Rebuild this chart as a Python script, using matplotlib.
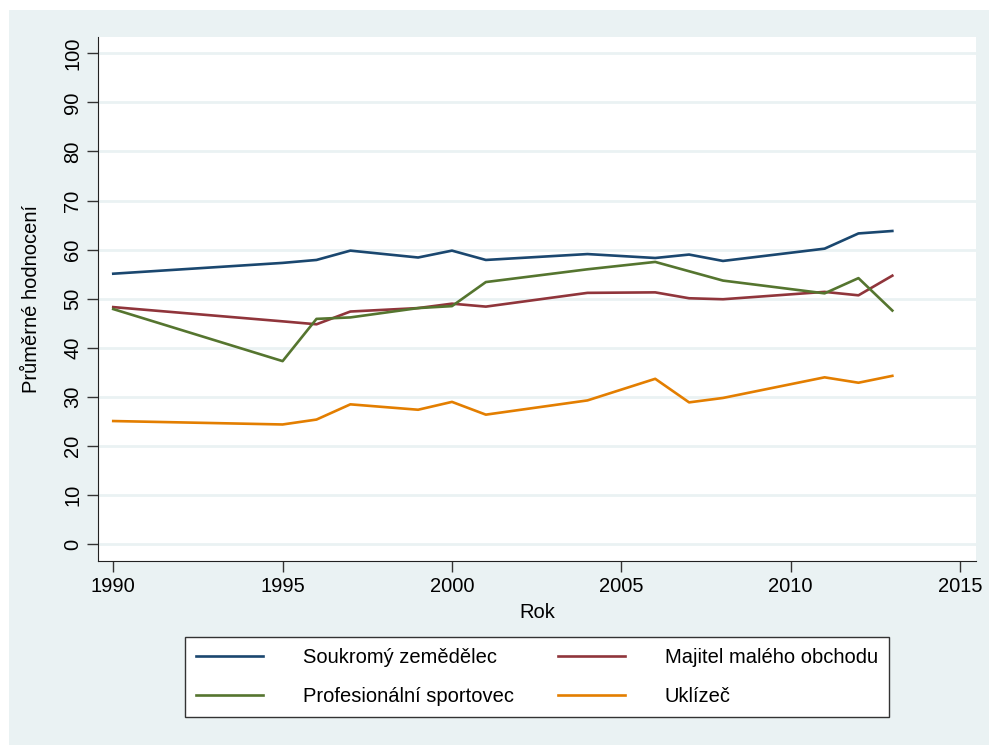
import matplotlib
matplotlib.use('Agg')
import matplotlib.pyplot as plt
from matplotlib.patches import Rectangle

# Data
years = [1990, 1995, 1996, 1997, 1999, 2000, 2001, 2004, 2006, 2007, 2008, 2011, 2012, 2013]
zemedelec = [55.1, 57.3, 57.9, 59.8, 58.4, 59.8, 57.9, 59.1, 58.3, 59.0, 57.7, 60.2, 63.3, 63.8]
obchod = [48.3, 45.4, 44.8, 47.4, 48.1, 49.0, 48.4, 51.2, 51.3, 50.1, 49.9, 51.4, 50.7, 54.7]
sportovec = [47.9, 37.3, 45.9, 46.2, 48.1, 48.5, 53.4, 56.0, 57.5, 55.6, 53.7, 51.1, 54.2, 47.6]
uklizec = [25.1, 24.4, 25.4, 28.5, 27.4, 29.0, 26.4, 29.3, 33.7, 28.9, 29.8, 34.0, 32.9, 34.3]

series = [
    ("Soukromý zemědělec", zemedelec, "#1a476f"),
    ("Majitel malého obchodu", obchod, "#90353b"),
    ("Profesionální sportovec", sportovec, "#55752f"),
    ("Uklízeč", uklizec, "#e37e00"),
]

PANEL = '#eaf2f3'
FS = 14.5
plt.rcParams['font.family'] = ['Liberation Sans', 'DejaVu Sans']

fig = plt.figure(figsize=(9.89, 7.47), dpi=100)
fig.patches.append(Rectangle((9 / 989, 2 / 747), 1, 735 / 747, transform=fig.transFigure,
                             facecolor=PANEL, edgecolor='none', zorder=-10))

ax = fig.add_axes([98 / 989, 186 / 747, 878 / 989, 524 / 747])
for label, vals, color in series:
    ax.plot(years, vals, color=color, lw=1.9, label=label)

ax.set_xlim(1989.55, 2015.47)
ax.set_ylim(-3.4, 103.3)
ax.set_xticks(range(1990, 2016, 5))
ax.set_yticks(range(0, 101, 10))
ax.tick_params(axis='both', direction='out', length=8, width=1, labelsize=FS, color='#333333')
ax.tick_params(axis='y', labelrotation=90)
for t in ax.get_yticklabels():
    t.set_va('center')
ax.grid(axis='y', color=PANEL, lw=2)
ax.set_axisbelow(True)
for side in ('top', 'right'):
    ax.spines[side].set_visible(False)
for side in ('left', 'bottom'):
    ax.spines[side].set_color('#222222')

ax.set_xlabel('Rok', fontsize=FS, labelpad=5)
ax.set_ylabel('Průměrné hodnocení', fontsize=FS, labelpad=16)

handles, labels = ax.get_legend_handles_labels()
order = [0, 2, 1, 3]
leg = fig.legend([handles[i] for i in order], [labels[i] for i in order], ncol=2,
                 loc='center', bbox_to_anchor=(182 / 989, 28 / 747, 710 / 989, 84 / 747),
                 fontsize=FS, frameon=True, fancybox=False, edgecolor='#333333',
                 framealpha=1, facecolor='white',
                 handlelength=3.3, handletextpad=2.0, columnspacing=2.2, labelspacing=1.0,
                 borderpad=0.55)
leg.get_frame().set_linewidth(1)

fig.savefig('out.png', dpi=100, facecolor='white')
